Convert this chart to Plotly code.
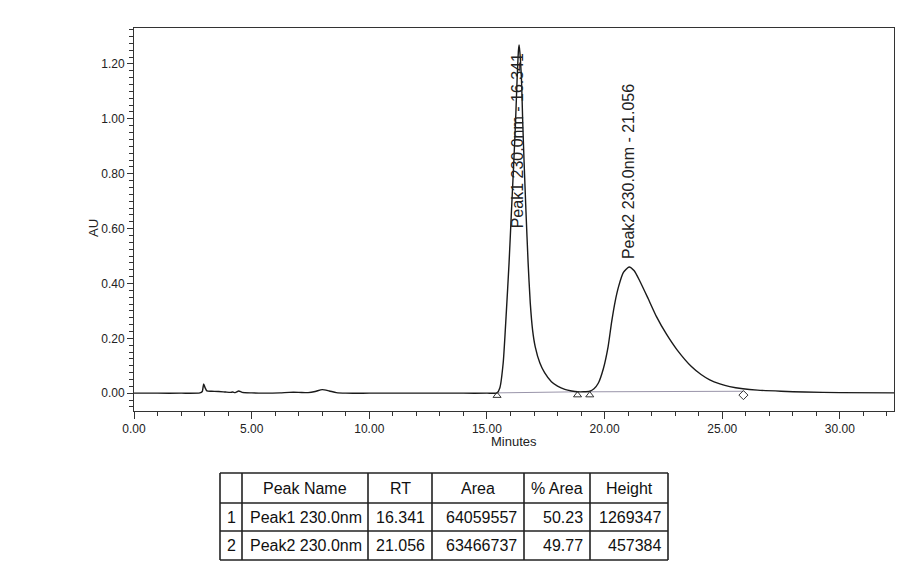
import plotly.graph_objects as go

# ---- chromatogram samples (minutes, AU) ----
time_min = [0.0, 1.0, 2.0, 2.8, 2.9, 2.96, 3.02, 3.1, 3.3, 3.6, 3.9, 4.1, 4.2, 4.3, 4.45, 4.6,
            5.0, 5.5, 6.2, 6.6, 7.0, 7.4, 7.7, 8.0, 8.3, 8.6, 9.0, 10.0, 12.0, 14.0, 15.0, 15.43,
            15.55, 15.69, 15.82, 15.94, 16.04, 16.14, 16.22, 16.28, 16.34, 16.37, 16.42, 16.47,
            16.52, 16.58, 16.66, 16.75, 16.84, 16.94, 17.05, 17.25, 17.45, 17.74, 18.0, 18.31,
            18.6, 18.85, 19.1, 19.37,
            19.55, 19.73, 19.95, 20.15, 20.3, 20.45, 20.6, 20.8, 21.04, 21.25, 21.49, 21.85,
            22.2, 22.63, 23.08, 23.69, 24.1, 24.47, 24.9, 25.32, 25.88, 26.5, 27.5, 28.5, 30.0, 32.3]
absorbance = [0.0, 0.0, 0.0, 0.001, 0.006, 0.034, 0.02, 0.008, 0.007, 0.006, 0.004, 0.003, 0.004, 0.002, 0.008, 0.003,
              0.001, 0.0, 0.001, 0.003, 0.003, 0.002, 0.006, 0.013, 0.008, 0.002, 0.0, 0.0, 0.0, 0.0, 0.0, 0.001,
              0.02, 0.11, 0.29, 0.475, 0.66, 0.84, 1.0, 1.14, 1.25, 1.269, 1.22, 1.14,
              0.99, 0.84, 0.66, 0.475, 0.33, 0.23, 0.17, 0.11, 0.075, 0.042, 0.026, 0.014,
              0.008, 0.005, 0.005, 0.007,
              0.016, 0.036, 0.09, 0.17, 0.26, 0.335, 0.39, 0.44, 0.46, 0.447, 0.41, 0.345,
              0.28, 0.215, 0.158, 0.097, 0.068, 0.0485, 0.034, 0.024, 0.016, 0.011, 0.007, 0.004, 0.002, 0.001]

# integration marks
start_marks_t = [15.43, 18.85, 19.37]
start_marks_y = [-0.009, -0.007, -0.007]
end_marks_t = [25.9]
end_marks_y = [-0.007]
baseline1_t = [15.43, 18.85]
baseline1_y = [0.001, 0.005]
baseline2_t = [19.37, 25.9]
baseline2_y = [0.005, 0.007]

# peak labels
peak_label_t = [16.30, 21.02]
peak_label_y = [0.92, 0.808]
peak_labels = ["Peak1 230.0nm - 16.341", "Peak2 230.0nm - 21.056"]

x_tick_vals = [0, 5, 10, 15, 20, 25, 30]
x_tick_text = ["0.00", "5.00", "10.00", "15.00", "20.00", "25.00", "30.00"]
y_tick_vals = [0.0, 0.2, 0.4, 0.6, 0.8, 1.0, 1.2]
y_tick_text = ["0.00", "0.20", "0.40", "0.60", "0.80", "1.00", "1.20"]

# results table
tbl_header = ["", "Peak Name", "RT", "Area", "% Area", "Height"]
tbl_index = ["1", "2"]
tbl_name = ["Peak1 230.0nm", "Peak2 230.0nm"]
tbl_rt = ["16.341", "21.056"]
tbl_area = ["64059557", "63466737"]
tbl_pct = ["50.23", "49.77"]
tbl_height = ["1269347", "457384"]

# page geometry (the browser body adds an 8 px offset)
OFF = 8
FW, FH = 907, 572
FONT = "Liberation Sans, Arial, sans-serif"


def px(x):
    return (x - OFF) / FW


def py(y):
    return 1 - (y - OFF) / FH


fig = go.Figure()
fig.add_trace(go.Scatter(x=baseline1_t, y=baseline1_y, mode="lines",
                         line=dict(color="#9a95aa", width=1), hoverinfo="skip", showlegend=False))
fig.add_trace(go.Scatter(x=baseline2_t, y=baseline2_y, mode="lines",
                         line=dict(color="#9a95aa", width=1), hoverinfo="skip", showlegend=False))
fig.add_trace(go.Scatter(x=time_min, y=absorbance, mode="lines",
                         line=dict(color="#1a1a1a", width=1.4, shape="spline", smoothing=0.6),
                         showlegend=False))
fig.add_trace(go.Scatter(x=start_marks_t, y=start_marks_y, mode="markers",
                         marker=dict(symbol="triangle-up-open", size=7, color="#333", line=dict(width=1)),
                         showlegend=False))
fig.add_trace(go.Scatter(x=end_marks_t, y=end_marks_y, mode="markers",
                         marker=dict(symbol="diamond-open", size=7, color="#333", line=dict(width=1)),
                         showlegend=False))

for t, y, txt in zip(peak_label_t, peak_label_y, peak_labels):
    fig.add_annotation(x=t, y=y, xref="x", yref="y", text=txt, showarrow=False,
                       xanchor="center", yanchor="middle",
                       textangle=-90, font=dict(family=FONT, size=16, color="#222"))

fig.add_annotation(x=px(94), y=py(228), xref="paper", yref="paper", text="AU",
                   showarrow=False, textangle=-90, xanchor="center", yanchor="middle",
                   font=dict(family=FONT, size=13, color="#222"))
fig.add_annotation(x=px(514), y=py(441), xref="paper", yref="paper", text="Minutes",
                   showarrow=False, xanchor="center", yanchor="middle",
                   font=dict(family=FONT, size=13, color="#222"))

# ---- table drawn with lines and text ----
col_edges = [220, 242, 368, 432, 524, 590, 668]
row_edges = [473, 503, 531, 560]
line_style = dict(color="#222", width=1.6)
for xe in col_edges:
    fig.add_shape(type="line", xref="paper", yref="paper", x0=px(xe), x1=px(xe),
                  y0=py(row_edges[0]), y1=py(row_edges[-1]), line=line_style)
for ye in row_edges:
    fig.add_shape(type="line", xref="paper", yref="paper", x0=px(col_edges[0]), x1=px(col_edges[-1]),
                  y0=py(ye), y1=py(ye), line=line_style)

tfont = dict(family=FONT, size=16, color="#111")
hy = (row_edges[0] + row_edges[1]) / 2
for i, h in enumerate(tbl_header):
    if h:
        fig.add_annotation(x=px((col_edges[i] + col_edges[i + 1]) / 2), y=py(hy), xref="paper", yref="paper",
                           text=h, showarrow=False, xanchor="center", yanchor="middle", font=tfont)

columns = [tbl_index, tbl_name, tbl_rt, tbl_area, tbl_pct, tbl_height]
aligns = ["center", "left", "right", "right", "right", "right"]
for r in range(len(tbl_index)):
    cy = (row_edges[r + 1] + row_edges[r + 2]) / 2
    for c, col in enumerate(columns):
        if aligns[c] == "center":
            xx = (col_edges[c] + col_edges[c + 1]) / 2
        elif aligns[c] == "left":
            xx = col_edges[c] + 6
        else:
            xx = col_edges[c + 1] - 5
        fig.add_annotation(x=px(xx), y=py(cy), xref="paper", yref="paper", text=col[r],
                           showarrow=False, xanchor=aligns[c], yanchor="middle", font=tfont)

axis_common = dict(showgrid=False, zeroline=False, showline=True, linecolor="#333", linewidth=1,
                   mirror=True, ticks="outside", tickcolor="#333", automargin=False,
                   tickfont=dict(family=FONT, size=12, color="#222"))
fig.update_xaxes(range=[0, 32.3], domain=[px(134), px(894)], tickvals=x_tick_vals,
                 ticktext=x_tick_text, ticklen=7,
                 minor=dict(dtick=1, ticklen=4, ticks="outside", tickcolor="#333"),
                 **axis_common)
fig.update_yaxes(range=[-0.065, 1.333], domain=[py(411), py(27.5)], tickvals=y_tick_vals,
                 ticktext=y_tick_text, ticklen=6,
                 minor=dict(dtick=0.025, tick0=0, ticklen=4, ticks="outside", tickcolor="#333"),
                 **axis_common)

fig.update_layout(width=FW, height=FH, template="none", paper_bgcolor="white", plot_bgcolor="white",
                  margin=dict(l=0, r=0, t=0, b=0), showlegend=False,
                  font=dict(family=FONT))
fig.write_html("out.html")
